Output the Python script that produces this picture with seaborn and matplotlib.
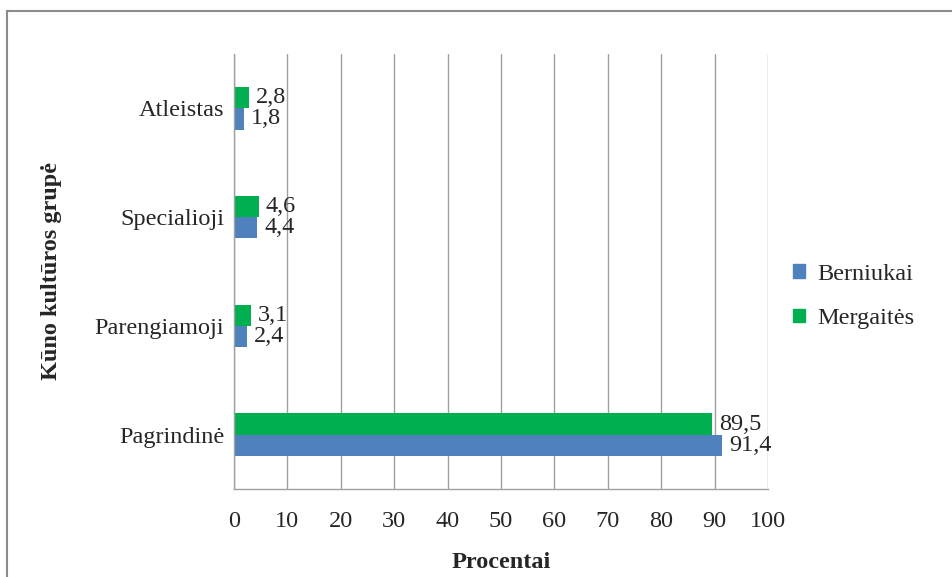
import matplotlib
matplotlib.use("Agg")
import matplotlib.pyplot as plt
import seaborn as sns
import pandas as pd
from matplotlib.patches import Rectangle, Patch

# data (top to bottom)
groups = ['Atleistas', 'Specialioji', 'Parengiamoji', 'Pagrindinė']
berniukai = [1.8, 4.4, 2.4, 91.4]
mergaites = [2.8, 4.6, 3.1, 89.5]
x_ticks = list(range(0, 101, 10))

df = pd.DataFrame({
    'Grupe': groups * 2,
    'Procentai': berniukai + mergaites,
    'Lytis': ['Berniukai'] * len(groups) + ['Mergaitės'] * len(groups),
})

colors = {'Berniukai': '#4F81BD', 'Mergaitės': '#00B050'}

sns.set_style('white')
plt.rcParams['font.family'] = ['Liberation Serif', 'DejaVu Serif']
fs = 17.5

fig = plt.figure(figsize=(9.52, 5.77), dpi=100)
ax = fig.add_axes([234 / 952, 1 - 489 / 577, 534 / 952, 435 / 577])

# green (girls) drawn above blue (boys) inside each group
sns.barplot(data=df, y='Grupe', x='Procentai', hue='Lytis', order=groups,
            hue_order=['Mergaitės', 'Berniukai'], palette=colors,
            width=0.39, orient='h', ax=ax, legend=False, saturation=1,
            linewidth=0)

for cont in ax.containers:
    labels = [f'{v:.1f}'.replace('.', ',') for v in cont.datavalues]
    ax.bar_label(cont, labels=labels, padding=5, fontsize=fs)

ax.set_xlim(0, 100)
ax.set_xticks(x_ticks)
ax.tick_params(axis='x', labelsize=fs, length=6, color='#A0A0A0', pad=10)
ax.tick_params(axis='y', labelsize=fs, length=0, pad=7)
ax.grid(axis='x', color='#A0A0A0', linewidth=1)
ax.set_axisbelow(True)
for side in ['top', 'right']:
    ax.spines[side].set_visible(False)
for side in ['left', 'bottom']:
    ax.spines[side].set_color('#A0A0A0')
    ax.spines[side].set_linewidth(1)

ax.set_xlabel('Procentai', fontsize=fs, fontweight='bold', labelpad=14)
ax.set_ylabel('Kūno kultūros grupė', fontsize=fs, fontweight='bold')
ax.yaxis.set_label_coords(-0.322, 0.5)

handles = [Patch(color=colors['Berniukai']), Patch(color=colors['Mergaitės'])]
fig.legend(handles, ['Berniukai', 'Mergaitės'], loc='center left',
           bbox_to_anchor=(0.81, 0.486), frameon=False, fontsize=fs,
           handlelength=0.5, handleheight=0.5, handletextpad=0.5,
           labelspacing=0.95)

# outer chart frame
fig.patches.append(Rectangle((7 / 952, -0.1), 1.2, 1 - 11 / 577 + 0.1,
                             transform=fig.transFigure, fill=False,
                             edgecolor='#8C8C8C', linewidth=1.5))

fig.savefig('out.png', dpi=100)
